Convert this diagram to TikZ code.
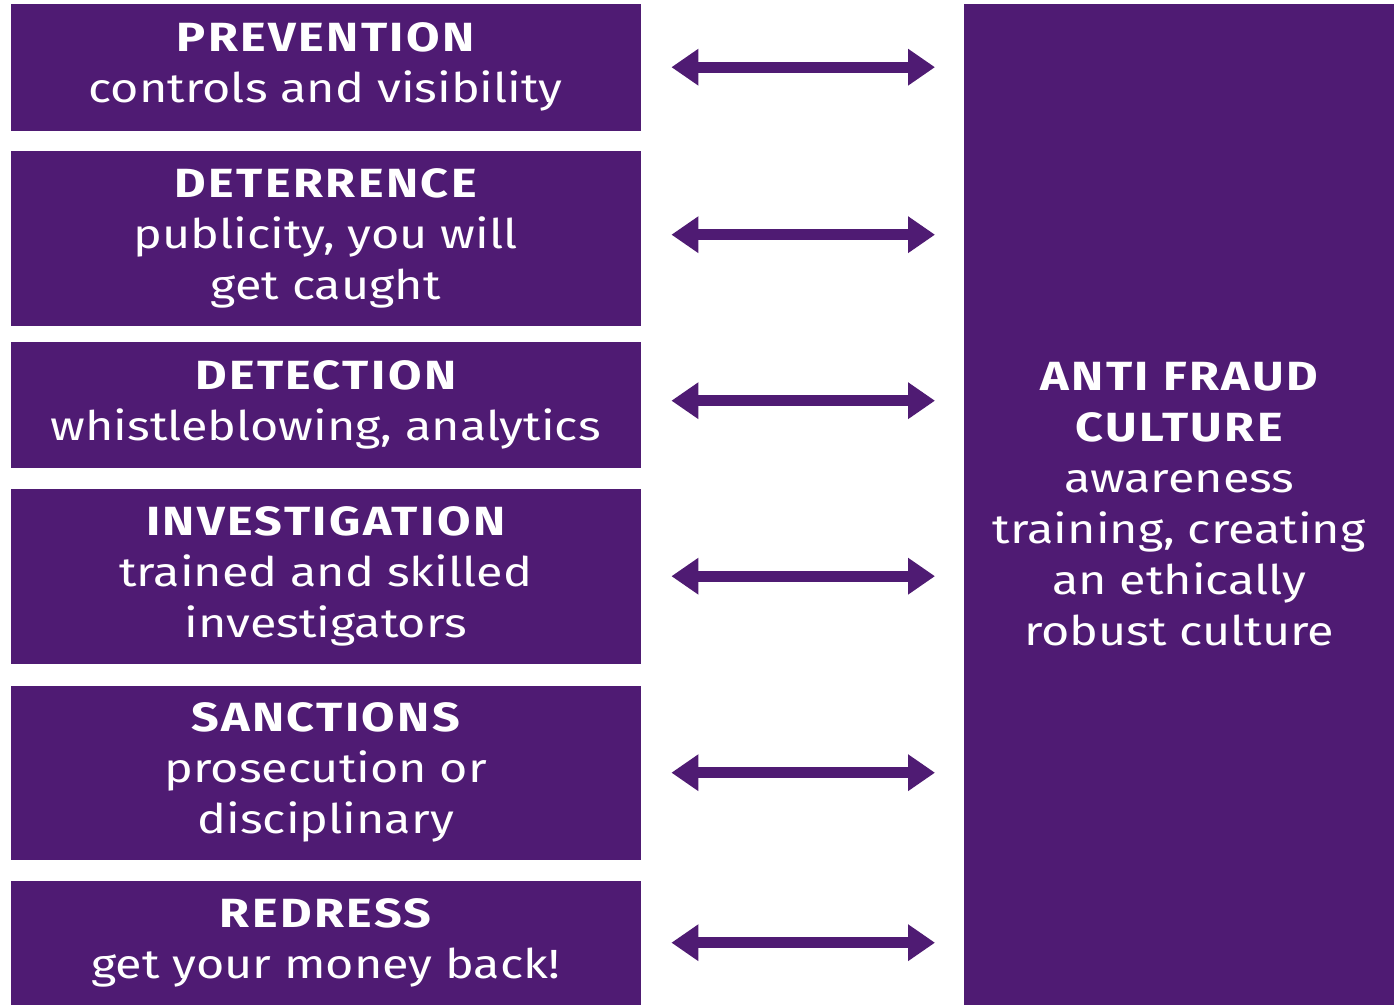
\documentclass[tikz,border=0pt]{standalone}
\usepackage{fontspec}
\setmainfont{Fira Sans}[FakeStretch=1.19]
\newfontfamily\headfont{Fira Sans}[FakeStretch=1.19,LetterSpace=6]
\usetikzlibrary{positioning,arrows.meta}
\definecolor{fraud}{RGB}{79,27,115}

\newcommand{\head}[1]{{\headfont\bfseries #1}}

\tikzset{
  stage/.style={fill=fraud, text=white, anchor=north west, inner sep=0pt,
    minimum width=6.3cm, align=center,
    font=\fontsize{11.6pt}{14.5pt}\selectfont},
  link/.style={fraud, line width=0.11cm,
    {Triangle[width=0.35cm,length=0.27cm]}-{Triangle[width=0.35cm,length=0.27cm]},
    shorten <=0.3cm, shorten >=0.28cm},
}

\begin{document}
\begin{tikzpicture}
        \useasboundingbox (0,0) rectangle (13.94,10.04);

        % the six stages on the left
        \node[stage, minimum height=1.27cm] (prev) at (0.1,10.01)
          {\head{PREVENTION}\\controls and visibility};
        \node[stage, minimum height=1.75cm] (deter) at (0.1,8.54)
          {\head{DETERRENCE}\\publicity, you will\\get caught};
        \node[stage, minimum height=1.26cm] (detect) at (0.1,6.63)
          {\head{DETECTION}\\whistleblowing, analytics};
        \node[stage, minimum height=1.75cm] (invest) at (0.1,5.16)
          {\head{INVESTIGATION}\\trained and skilled\\investigators};
        \node[stage, minimum height=1.74cm] (sanct) at (0.1,3.19)
          {\head{SANCTIONS}\\prosecution or\\disciplinary};
        \node[stage, minimum height=1.24cm] (redress) at (0.1,1.24)
          {\head{REDRESS}\\get your money back!};

        % culture column on the right
        \node[stage, minimum width=4.31cm, minimum height=10.01cm] (culture) at (9.63,10.01)
          {\head{ANTI FRAUD}\\\head{CULTURE}\\awareness\\training, creating\\an ethically\\robust culture};

        % two-way links
        \draw[link] (prev.east) -- (prev.east -| culture.west);
        \draw[link] ([yshift=0.035cm]deter.east) -- ([yshift=0.035cm]deter.east -| culture.west);
        \draw[link] ([yshift=0.04cm]detect.east) -- ([yshift=0.04cm]detect.east -| culture.west);
        \draw[link] (invest.east) -- (invest.east -| culture.west);
        \draw[link] (sanct.east) -- (sanct.east -| culture.west);
        \draw[link] (redress.east) -- (redress.east -| culture.west);
\end{tikzpicture}
\end{document}
